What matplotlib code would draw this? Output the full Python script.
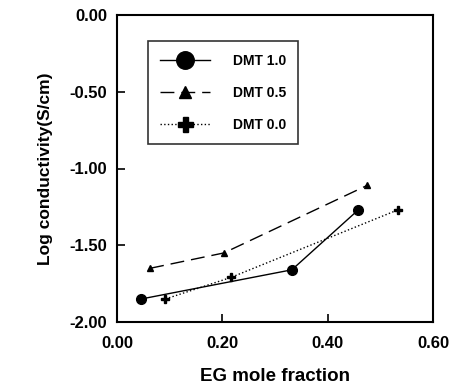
import matplotlib
matplotlib.use("Agg")
import matplotlib.pyplot as plt

plt.rcParams['font.family'] = ['Liberation Sans', 'DejaVu Sans']
plt.rcParams['font.weight'] = 'bold'

# EG mole fraction vs log conductivity for each DMT ratio
x_dmt10 = [0.046, 0.332, 0.458]
y_dmt10 = [-1.85, -1.66, -1.27]

x_dmt05 = [0.063, 0.203, 0.475]
y_dmt05 = [-1.65, -1.55, -1.11]

x_dmt00 = [0.092, 0.216, 0.533]
y_dmt00 = [-1.85, -1.71, -1.27]

xticks = [0.0, 0.2, 0.4, 0.6]
yticks = [0.0, -0.5, -1.0, -1.5, -2.0]

fig = plt.figure(figsize=(4.52, 3.84), dpi=100)
ax = fig.add_axes([117/452, 1 - 322/384, 316/452, 307/384])

ax.plot(x_dmt10, y_dmt10, '-', color='black', lw=1.0, marker='o', ms=7,
        label='DMT 1.0')
ax.plot(x_dmt05, y_dmt05, color='black', lw=1.0, dashes=(10, 5), marker='^',
        ms=5, label='DMT 0.5')
ax.plot(x_dmt00, y_dmt00, ':', color='black', lw=1.0, marker='P', ms=6,
        label='DMT 0.0')

ax.set_xlim(0, 0.6)
ax.set_ylim(-2.0, 0.0)
ax.set_xticks(xticks)
ax.set_yticks(yticks)
ax.set_xticklabels(['%.2f' % v for v in xticks], fontsize=12, fontweight='bold')
ax.set_yticklabels(['%.2f' % v for v in yticks], fontsize=12, fontweight='bold')
ax.tick_params(direction='in', length=6, width=1.2, pad=7, color='black')
ax.tick_params(axis='x', pad=10)
for s in ax.spines.values():
    s.set_linewidth(1.5)

ax.set_xlabel('EG mole fraction', fontsize=13.5, fontweight='bold', labelpad=12)
ax.set_ylabel('Log conductivity(S/cm)', fontsize=12.5, fontweight='bold', labelpad=12)

leg = ax.legend(loc='upper left', bbox_to_anchor=(0.098, 0.915), markerscale=1.8,
                prop={'size': 10, 'weight': 'bold'}, frameon=True, fancybox=False,
                edgecolor='black', handlelength=3.6, handletextpad=1.6,
                borderpad=0.9, labelspacing=1.3, borderaxespad=0)
leg.get_frame().set_linewidth(1.2)

fig.savefig('out.png', dpi=100)
